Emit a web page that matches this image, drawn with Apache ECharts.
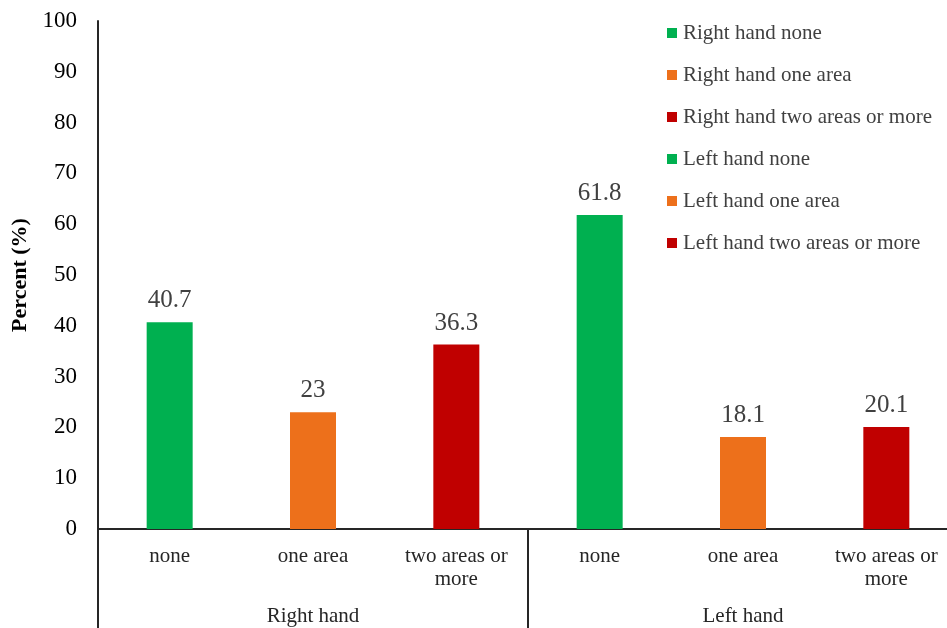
<!DOCTYPE html>
<html>
<head>
<meta charset="utf-8">
<script src="https://cdn.jsdelivr.net/npm/echarts@6/dist/echarts.min.js"></script>
<style>
  html, body { margin: 0; padding: 0; background: #fff; }
  #chart { width: 947px; height: 628px; }
</style>
</head>
<body>
<div id="chart"></div>
<script>
// Share of participants by number of affected areas, per hand
const categories = ['none', 'one area', 'two areas or\nmore', 'none', 'one area', 'two areas or\nmore'];
const groups = ['Right hand', 'Left hand'];
const seriesNames = [
  'Right hand none',
  'Right hand one area',
  'Right hand two areas or more',
  'Left hand none',
  'Left hand one area',
  'Left hand two areas or more'
];
const values = [40.7, 23, 36.3, 61.8, 18.1, 20.1];
const colors = ['#00B050', '#ED701B', '#C00000', '#00B050', '#ED701B', '#C00000'];
const yTicks = [0, 10, 20, 30, 40, 50, 60, 70, 80, 90, 100];

const FONT = '"Liberation Serif", "Times New Roman", serif';

// one series per bar so each gets its own legend entry; stacked so they share the slot
const series = seriesNames.map((name, i) => ({
  name: name,
  type: 'bar',
  stack: 'all',
  barWidth: 46,
  itemStyle: { color: colors[i] },
  label: {
    show: true,
    position: 'top',
    distance: 9,
    fontFamily: FONT,
    fontSize: 25,
    color: '#404040'
  },
  data: values.map((v, j) => (j === i ? v : null))
}));

const chart = echarts.init(document.getElementById('chart'), null, { renderer: 'canvas' });
chart.setOption({
  animation: false,
  backgroundColor: '#fff',
  textStyle: { fontFamily: FONT },
  legend: {
    orient: 'vertical',
    left: 662,
    top: 17,
    icon: 'rect',
    itemWidth: 10,
    itemHeight: 10,
    itemGap: 20,
    textStyle: { fontFamily: FONT, fontSize: 21, color: '#404040', lineHeight: 22, padding: [0, 0, 0, 1] },
    data: seriesNames
  },
  grid: { left: 98, right: -11, top: 21, bottom: 99, containLabel: false, outerBoundsMode: 'none' },
  xAxis: [
    {
      type: 'category',
      data: categories,
      axisLine: { lineStyle: { color: '#262626', width: 2 } },
      axisTick: { show: false },
      axisLabel: {
        interval: 0,
        margin: 16,
        fontFamily: FONT,
        fontSize: 21,
        lineHeight: 23,
        color: '#262626'
      }
    },
    {
      type: 'category',
      data: groups,
      position: 'bottom',
      axisLine: { show: false },
      axisTick: { show: true, length: 100, lineStyle: { color: '#262626', width: 2 } },
      axisLabel: {
        interval: 0,
        margin: 77,
        fontFamily: FONT,
        fontSize: 21,
        color: '#262626'
      }
    }
  ],
  yAxis: {
    type: 'value',
    min: yTicks[0],
    max: yTicks[yTicks.length - 1],
    interval: yTicks[1] - yTicks[0],
    name: 'Percent (%)',
    nameLocation: 'middle',
    nameGap: 63,
    nameTextStyle: { fontFamily: FONT, fontSize: 22, fontWeight: 'bold', color: '#000' },
    axisLine: { show: true, lineStyle: { color: '#262626', width: 2 } },
    axisTick: { show: false },
    splitLine: { show: false },
    axisLabel: { margin: 21, fontFamily: FONT, fontSize: 23, color: '#000' }
  },
  series: series
});
</script>
</body>
</html>
